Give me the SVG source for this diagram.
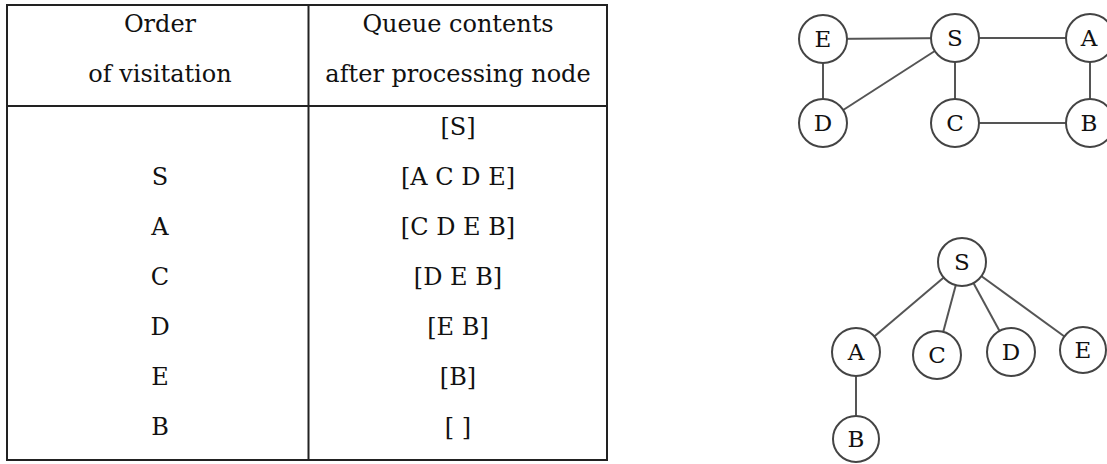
<svg xmlns="http://www.w3.org/2000/svg" width="1107" height="464" viewBox="0 0 1107 464">
  <style>
    .t { font-family: "DejaVu Serif", "Liberation Serif", serif; font-size: 24px; fill: #111; text-anchor: middle; }
    .grid { stroke: #222; stroke-width: 2; fill: none; }
    .edge { stroke: #555; stroke-width: 2; fill: none; }
    .node circle { fill: #fff; stroke: #444; stroke-width: 2; }
    .n { font-family: "DejaVu Serif", "Liberation Serif", serif; font-size: 23px; fill: #111; text-anchor: middle; }
  </style>
  <rect width="1107" height="464" fill="#fff"/>

  <g id="table">
    <rect class="grid" x="7" y="5" width="600" height="455"/>
    <line class="grid" x1="308.5" y1="5" x2="308.5" y2="460"/>
    <line class="grid" x1="7" y1="106" x2="607" y2="106"/>
    <text class="t" x="160" y="32">Order</text>
    <text class="t" x="160" y="82">of visitation</text>
    <text class="t" x="458" y="32">Queue contents</text>
    <text class="t" x="458" y="82">after processing node</text>
    <text class="t" x="458" y="135">[S]</text>
    <text class="t" x="160" y="185">S</text>
    <text class="t" x="458" y="185">[A C D E]</text>
    <text class="t" x="160" y="235">A</text>
    <text class="t" x="458" y="235">[C D E B]</text>
    <text class="t" x="160" y="285">C</text>
    <text class="t" x="458" y="285">[D E B]</text>
    <text class="t" x="160" y="335">D</text>
    <text class="t" x="458" y="335">[E B]</text>
    <text class="t" x="160" y="385">E</text>
    <text class="t" x="458" y="385">[B]</text>
    <text class="t" x="160" y="435">B</text>
    <text class="t" x="458" y="435">[ ]</text>
  </g>

  <g id="connectors">
    <!-- graph -->
    <line class="edge" x1="823" y1="39" x2="955" y2="38"/>
    <line class="edge" x1="955" y1="38" x2="1090" y2="38"/>
    <line class="edge" x1="823" y1="39" x2="823" y2="123"/>
    <line class="edge" x1="823" y1="123" x2="955" y2="38"/>
    <line class="edge" x1="955" y1="38" x2="955" y2="123"/>
    <line class="edge" x1="955" y1="123" x2="1090" y2="123"/>
    <line class="edge" x1="1090" y1="38" x2="1090" y2="123"/>
    <!-- tree -->
    <line class="edge" x1="962" y1="262" x2="856" y2="352"/>
    <line class="edge" x1="962" y1="262" x2="937" y2="355"/>
    <line class="edge" x1="962" y1="262" x2="1011" y2="352"/>
    <line class="edge" x1="962" y1="262" x2="1083" y2="350"/>
    <line class="edge" x1="856" y1="352" x2="856" y2="439"/>
  </g>

  <g id="g-E" class="node"><circle cx="823" cy="39" r="24"/><text class="n" x="823" y="47">E</text></g>
  <g id="g-S" class="node"><circle cx="955" cy="38" r="24"/><text class="n" x="955" y="46">S</text></g>
  <g id="g-A" class="node"><circle cx="1090" cy="38" r="24"/><text class="n" x="1089" y="46">A</text></g>
  <g id="g-D" class="node"><circle cx="823" cy="123" r="24"/><text class="n" x="823" y="131">D</text></g>
  <g id="g-C" class="node"><circle cx="955" cy="123" r="24"/><text class="n" x="955" y="131">C</text></g>
  <g id="g-B" class="node"><circle cx="1090" cy="123" r="24"/><text class="n" x="1089" y="131">B</text></g>

  <g id="t-S" class="node"><circle cx="962" cy="262" r="24"/><text class="n" x="962" y="270">S</text></g>
  <g id="t-A" class="node"><circle cx="856" cy="352" r="24"/><text class="n" x="856" y="360">A</text></g>
  <g id="t-C" class="node"><circle cx="937" cy="355" r="24"/><text class="n" x="937" y="363">C</text></g>
  <g id="t-D" class="node"><circle cx="1011" cy="352" r="24"/><text class="n" x="1011" y="360">D</text></g>
  <g id="t-E" class="node"><circle cx="1083" cy="350" r="23"/><text class="n" x="1083" y="358">E</text></g>
  <g id="t-B" class="node"><circle cx="856" cy="439" r="23"/><text class="n" x="856" y="447">B</text></g>
</svg>
